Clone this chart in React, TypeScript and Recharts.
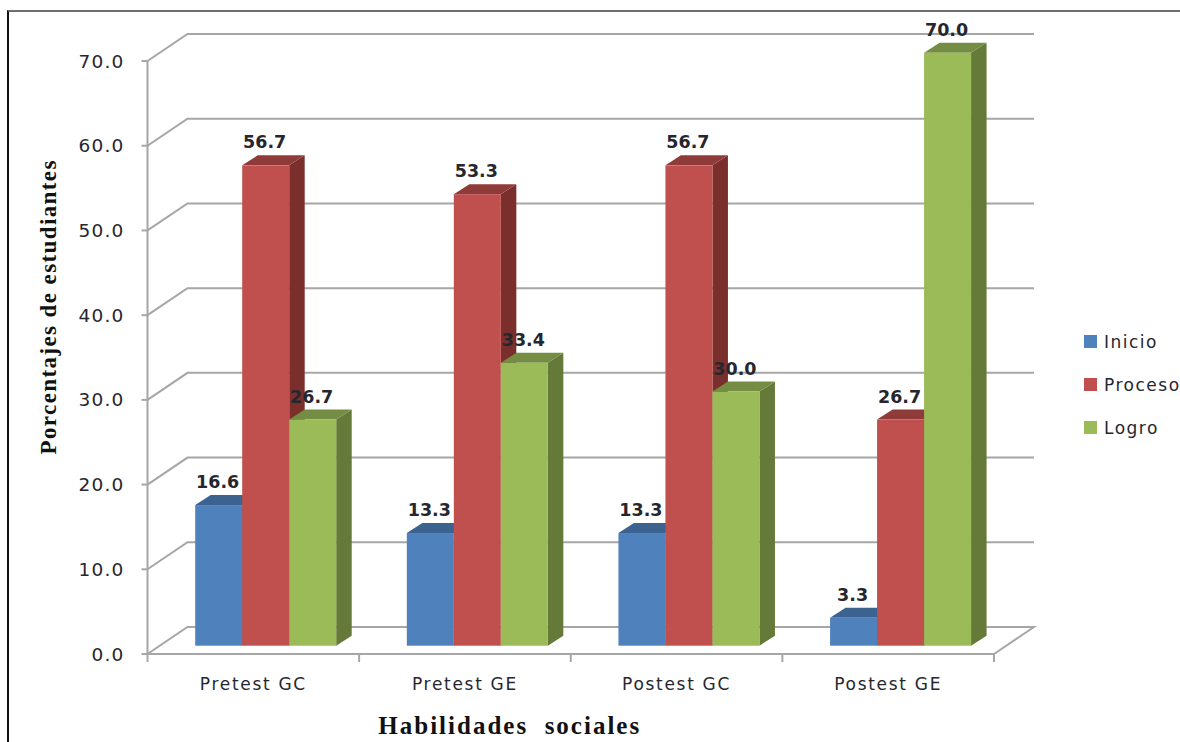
// Habilidades sociales: 3D-looking clustered columns drawn with Recharts
import { Bar, BarChart, CartesianGrid, LabelList, Legend, XAxis, YAxis } from "recharts";

const categories = ["Pretest GC", "Pretest GE", "Postest GC", "Postest GE"];
const inicio = [16.6, 13.3, 13.3, 3.3];
const proceso = [56.7, 53.3, 56.7, 26.7];
const logro = [26.7, 33.4, 30.0, 70.0];
const yTicks = [0, 10, 20, 30, 40, 50, 60, 70];

const data = categories.map((name, i) => ({
  name,
  Inicio: inicio[i],
  Proceso: proceso[i],
  Logro: logro[i],
}));

// depth of the back wall and of the columns, in pixels
const WALL_DX = 40;
const WALL_DY = 27;
const BAR_SHIFT_X = 12.9;
const BAR_SHIFT_Y = 8.3;
const BAR_DX = 15.5;
const BAR_DY = 10;

const X_TICK_SIZE = 8;
const X_TICK_MARGIN = 16;

const GRID = "#a6a6a6";
const TEXT = "#26262e";
const SANS = "'DejaVu Sans', sans-serif";
const SERIF = "'Liberation Serif', serif";

// front, top and side colours of a column
function column3d(front: string, top: string, side: string) {
  return (props: any) => {
    const { x, y, width, height } = props;
    const l = x + BAR_SHIFT_X;
    const r = l + width;
    const t = y - BAR_SHIFT_Y;
    const b = t + height;
    return (
      <g>
        <polygon points={`${r},${t} ${r + BAR_DX},${t - BAR_DY} ${r + BAR_DX},${b - BAR_DY} ${r},${b}`} fill={side} />
        <polygon points={`${l},${t} ${l + BAR_DX},${t - BAR_DY} ${r + BAR_DX},${t - BAR_DY} ${r},${t}`} fill={top} />
        <rect x={l} y={t} width={width} height={height} fill={front} />
      </g>
    );
  };
}

// value printed just above the back edge of the column top
function valueLabel(props: any) {
  const { x, y, width, value } = props;
  return (
    <text
      x={x + BAR_SHIFT_X + width / 2 - 1}
      y={y - BAR_SHIFT_Y - BAR_DY - 7}
      textAnchor="middle"
      fontFamily={SANS}
      fontSize={17.5}
      fontWeight="bold"
      fill={TEXT}
    >
      {Number(value).toFixed(1)}
    </text>
  );
}

// category label, with the tick marks on the category boundaries instead of the centre
function categoryTick(props: any) {
  const { x, y, width, index, payload } = props;
  const step = width / categories.length;
  const axisY = y - X_TICK_SIZE - X_TICK_MARGIN;
  const left = x - step / 2;
  const right = x + step / 2;
  return (
    <g>
      <line x1={left} y1={axisY} x2={left} y2={axisY + X_TICK_SIZE} stroke={GRID} strokeWidth={2} />
      {index === categories.length - 1 && (
        <line x1={right} y1={axisY} x2={right} y2={axisY + X_TICK_SIZE} stroke={GRID} strokeWidth={2} />
      )}
      <text x={x} y={y} dy={12} textAnchor="middle" fontFamily={SANS} fontSize={17} letterSpacing={1.7} fill={TEXT}>
        {payload.value}
      </text>
    </g>
  );
}

// gridline: slanted side wall, then along the back wall; the floor also closes on the right
function gridLine(props: any) {
  const { x1, x2, y1, index } = props;
  const by = y1 - WALL_DY;
  let d = `M${x1},${y1} L${x1 + WALL_DX},${by} L${x2 + WALL_DX},${by}`;
  if (y1 > 600) d += ` L${x2},${y1}`;
  return <path key={index} d={d} fill="none" stroke={GRID} strokeWidth={2} />;
}

function legendContent(props: any) {
  return (
    <div style={{ fontFamily: SANS, fontSize: 17, letterSpacing: 1.5, color: TEXT }}>
      {props.payload.map((p: any) => (
        <div key={p.value} style={{ display: "flex", alignItems: "center", height: 43, whiteSpace: "nowrap" }}>
          <span style={{ width: 13, height: 13, background: p.color, marginRight: 7, flex: "none" }} />
          {p.value}
        </div>
      ))}
    </div>
  );
}

export default function App() {
  return (
    <div style={{ position: "absolute", left: 0, top: 0, width: 1180, height: 742, overflow: "hidden", background: "#fff" }}>
      {/* outer frame, top and left edges only */}
      <div style={{ position: "absolute", left: 7, top: 10, right: 0, bottom: 0, borderTop: "2px solid #6e6e6e", borderLeft: "2px solid #111" }} />
      <BarChart
        width={1180}
        height={742}
        data={data}
        margin={{ top: 61, right: 186, bottom: 48, left: 67.5 }}
        barCategoryGap={34.8}
        barGap={0}
        style={{ position: "absolute", left: 0, top: 0 }}
      >
        <CartesianGrid vertical={false} horizontal={gridLine} />
        <XAxis
          dataKey="name"
          height={40}
          stroke={GRID}
          strokeWidth={2}
          tickLine={false}
          tickSize={X_TICK_SIZE}
          tickMargin={X_TICK_MARGIN}
          interval={0}
          tick={categoryTick}
          label={{ value: "Habilidades\u00a0\u00a0sociales", position: "insideBottom", dx: -61, dy: 45, fontFamily: SERIF, fontSize: 25, letterSpacing: 2, fontWeight: "bold", fill: "#111" }}
        />
        <YAxis
          type="number"
          domain={[0, 70]}
          ticks={yTicks}
          width={80}
          stroke={GRID}
          strokeWidth={2}
          tickSize={6}
          tickMargin={17}
          tickFormatter={(v: number) => v.toFixed(1)}
          tick={{ fontFamily: SANS, fontSize: 18.5, letterSpacing: 1.2, fill: TEXT }}
          label={{ value: "Porcentajes de estudiantes", angle: -90, position: "insideLeft", dx: -25, dy: 97, fontFamily: SERIF, fontSize: 23, letterSpacing: 1.4, fontWeight: "bold", fill: "#111" }}
        />
        <Legend
          layout="vertical"
          verticalAlign="middle"
          align="center"
          itemSorter={null}
          content={legendContent}
          wrapperStyle={{ left: 1084, top: 320, width: 110 }}
        />
        <Bar dataKey="Inicio" fill="#4f81bd" isAnimationActive={false} shape={column3d("#4f81bd", "#3c6390", "#3a5f8c")}>
          <LabelList dataKey="Inicio" content={valueLabel} />
        </Bar>
        <Bar dataKey="Proceso" fill="#c0504d" isAnimationActive={false} shape={column3d("#c0504d", "#8f3b39", "#7a2f2d")}>
          <LabelList dataKey="Proceso" content={valueLabel} />
        </Bar>
        <Bar dataKey="Logro" fill="#9bbb59" isAnimationActive={false} shape={column3d("#9bbb59", "#758d43", "#657a38")}>
          <LabelList dataKey="Logro" content={valueLabel} />
        </Bar>
      </BarChart>
    </div>
  );
}
